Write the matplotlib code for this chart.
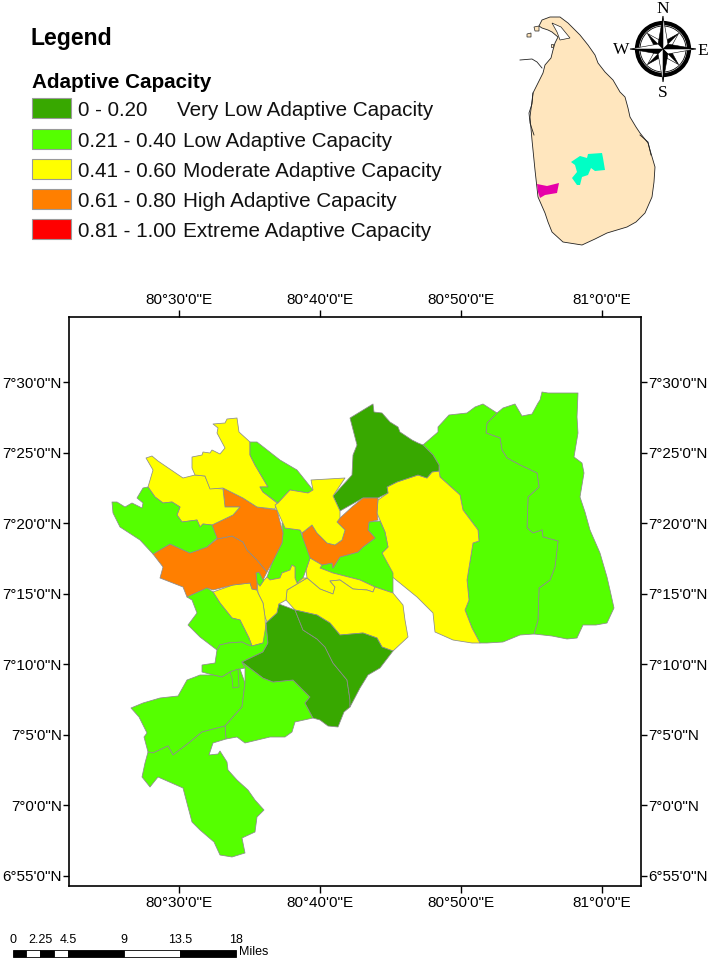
import numpy as np
import matplotlib
matplotlib.use("Agg")
import matplotlib.pyplot as plt
from matplotlib.patches import Polygon, Rectangle, Circle

plt.rcParams['font.family'] = ['Liberation Sans', 'DejaVu Sans']

W, H = 709, 959

# ---------- legend classes ----------
CLASS_COLORS = ['#38A800', '#55FF00', '#FFFF00', '#FF7F00', '#FF0000']
CLASS_RANGES = ['0 - 0.20', '0.21 - 0.40', '0.41 - 0.60', '0.61 - 0.80', '0.81 - 1.00']
CLASS_NAMES = ['Very Low Adaptive Capacity', 'Low Adaptive Capacity', 'Moderate Adaptive Capacity',
               'High Adaptive Capacity', 'Extreme Adaptive Capacity']

# ---------- axis ticks ----------
LON_TICKS = [80.5, 80 + 40/60, 80 + 50/60, 81.0]
LON_LABELS = ['80°30\'0"E', '80°40\'0"E', '80°50\'0"E', '81°0\'0"E']
LAT_TICKS = [7.5, 7 + 25/60, 7 + 20/60, 7 + 15/60, 7 + 10/60, 7 + 5/60, 7.0, 6 + 55/60]
LAT_LABELS = ['7°30\'0"N', '7°25\'0"N', '7°20\'0"N', '7°15\'0"N', '7°10\'0"N', '7°5\'0"N', '7°0\'0"N', '6°55\'0"N']

east_right = [(497,413),(487,423),(486,433),(500,438),(502,450),(507,458),(520,465),(537,473),(539,487),(528,497),
              (527,528),(533,533),(542,530),(543,537),(558,541),(555,567),(550,580),(539,588),(538,620),(534,634),
              (552,636),(567,639),(577,638),(583,625),(596,625),(607,623),(614,608),(610,590),(607,577),(600,553),
              (590,530),(585,512),(580,497),(584,473),(582,463),(574,457),(578,433),(577,417),(578,393),(560,393),
              (548,393),(542,392),(540,400),(538,403),(532,414),(522,416),(515,404),(503,408)]
east_mid = [(423,445),(438,432),(438,427),(449,415),(467,413),(475,407),(483,404),(497,413),(487,423),(486,433),(500,438),
            (502,450),(507,458),(520,465),(537,473),(539,487),(528,497),(527,528),(533,533),(542,530),(543,537),
            (558,541),(555,567),(550,580),(539,588),(538,620),(534,634),(520,635),(503,642),(487,643),(480,643),
            (472,628),(465,610),(469,600),(467,580),(473,543),(479,541),(478,530),(463,510),(460,495),(440,477),
            (439,465),(433,455)]
east_yellow = [(439,471),(440,477),(460,495),(463,510),(478,530),(479,541),(473,543),(467,580),(469,600),(465,610),
               (472,628),(480,643),(472,643),(453,640),(435,632),(433,613),(417,597),(390,575),(382,553),(388,547),
               (385,532),(377,513),(378,500),(388,493),(387,487),(397,482),(418,475),(427,478),(432,472)]
north_dark = [(373,404),(374,412),(382,413),(390,422),(398,427),(400,432),(412,440),(418,443),(423,445),(433,455),
              (439,465),(439,471),(432,472),(427,478),(418,475),(397,482),(387,487),(388,493),(378,498),(363,498),
              (340,511),(333,496),(352,475),(353,455),(357,445),(350,418)]
orange_east = [(378,498),(363,498),(352,507),(340,518),(337,522),(345,530),(342,540),(335,545),(327,543),(317,533),
               (312,525),(302,533),(303,540),(310,558),(322,565),(332,563),(333,568),(340,557),(358,552),(363,547),
               (375,538),(368,530),(369,522),(378,520),(377,513)]
green_east = [(369,522),(368,530),(375,538),(363,547),(358,552),(340,557),(333,568),(332,563),(322,565),(320,568),
              (333,573),(360,580),(375,587),(393,593),(393,573),(382,553),(388,547),(385,532),(380,521)]
yellow_sliver = [(306,570),(310,558),(322,565),(320,568),(333,573),(360,580),(375,587),(373,592),(367,590),(353,589),
                 (340,580),(330,581),(335,587),(333,594),(320,589),(307,578)]
yellow_south = [(307,578),(320,589),(333,594),(335,587),(330,581),(340,580),(353,589),(367,590),(373,592),(375,587),
                (393,593),(403,605),(405,620),(408,637),(393,651),(382,647),(377,638),(363,633),(340,635),(330,623),
                (317,615),(295,610),(286,600),(287,590)]
green_centre = [(285,528),(300,530),(310,558),(306,570),(303,578),(297,583),(295,578),(295,567),(292,565),(290,570),
                (282,573),(280,578),(270,580),(267,577),(272,563),(282,543),(283,533),(282,523),(286,527)]
green_speck = [(256,573),(259,572),(264,580),(260,586),(257,583)]
yellow_centre = [(267,577),(270,580),(280,578),(282,573),(290,570),(292,565),(295,567),(295,578),(297,583),(303,578),
                 (307,578),(287,590),(286,600),(279,604),(277,613),(267,622),(265,617),(263,603),(258,593),(257,582),
                 (260,586),(264,580)]
yellow_sw = [(213,592),(233,585),(250,583),(252,589),(257,590),(258,593),(263,603),(265,617),(266,637),(263,643),
             (252,646),(249,638),(240,620),(232,618),(228,613),(220,603)]
orange_w1 = [(153,554),(170,544),(190,553),(207,547),(217,539),(232,536),(243,542),(247,550),(257,560),(267,572),
             (263,580),(259,572),(256,573),(257,582),(257,590),(252,589),(250,583),(233,585),(213,590),(207,588),
             (187,597),(183,587),(160,578),(163,567)]
orange_w2 = [(217,539),(212,525),(233,515),(240,507),(225,507),(223,488),(243,498),(257,507),(277,510),(283,533),
             (282,543),(272,563),(267,572),(257,560),(247,550),(243,542),(232,536)]
yellow_west = [(146,458),(152,456),(158,461),(183,478),(195,475),(205,476),(210,488),(223,489),(225,507),(240,507),
               (233,515),(212,525),(203,524),(200,527),(197,520),(182,522),(177,515),(180,507),(172,502),(163,503),
               (155,497),(148,487),(153,470)]
green_west = [(112,502),(117,502),(125,507),(132,503),(142,508),(143,503),(137,498),(143,488),(148,487),(155,497),
              (163,503),(172,502),(180,507),(177,515),(182,522),(197,520),(200,527),(203,524),(212,525),(217,538),
              (207,547),(190,553),(170,544),(153,554),(140,540),(120,527),(113,513)]
yellow_north = [(213,424),(225,423),(227,419),(237,418),(239,432),(250,442),(250,455),(255,465),(268,487),(260,487),
                (263,492),(277,503),(275,509),(257,507),(243,498),(223,488),(210,489),(205,476),(195,475),(192,468),
                (192,457),(202,455),(203,452),(210,453),(212,450),(220,454),(225,448),(217,433),(218,428)]
green_north = [(250,442),(257,442),(280,460),(297,470),(313,490),(308,493),(290,490),(278,503),(263,492),(260,487),
               (268,487),(255,465),(250,455)]
yellow_mid = [(313,490),(311,480),(345,478),(333,496),(340,511),(340,518),(337,522),(345,530),(342,540),(335,545),
              (327,543),(317,533),(312,525),(302,533),(300,530),(285,528),(277,510),(275,505),(278,503),(290,490),(308,493)]
dark_s_left = [(279,604),(295,610),(303,630),(317,639),(325,647),(333,663),(347,680),(350,700),(350,707),(344,712),
               (338,727),(328,726),(320,720),(313,718),(305,703),(310,697),(293,680),(273,682),(263,678),(242,662),
               (263,652),(268,643),(266,623),(277,613)]
dark_s_right = [(295,610),(317,615),(330,623),(340,635),(363,633),(377,638),(382,647),(393,651),(380,668),(368,675),
                (360,688),(350,707),(350,700),(347,680),(333,663),(325,647),(317,639),(303,630)]
green_lower_a = [(192,600),(187,597),(207,588),(213,592),(220,603),(228,613),(232,618),(240,620),(249,638),(252,646),
                 (248,645),(242,642),(228,643),(220,645),(217,650),(200,637),(188,625),(197,613)]
green_lower_b = [(220,645),(228,643),(242,642),(248,645),(252,646),(263,643),(266,625),(268,643),(263,652),(242,662),
                 (245,668),(240,669),(230,672),(222,677),(213,675),(202,672),(202,665),(215,663),(217,650)]
green_lower_c = [(131,708),(143,703),(160,698),(178,696),(187,680),(195,677),(200,675),(213,675),(222,677),(230,672),
                 (240,669),(245,683),(242,707),(233,717),(225,726),(202,732),(190,742),(173,755),(168,746),(153,753),
                 (148,752),(144,737),(147,733),(139,717)]
green_lower_inner = [(230,672),(238,669),(239,687),(233,688),(232,678)]
green_lower_d = [(245,668),(242,662),(263,678),(273,682),(293,680),(310,697),(305,703),(313,718),(295,722),(292,732),
                 (285,737),(270,737),(245,743),(237,737),(226,739),(225,726),(233,717),(242,707),(245,683)]
green_south = [(148,752),(153,753),(168,746),(173,755),(190,742),(202,732),(225,726),(226,739),(213,743),(209,755),
               (218,754),(220,751),(227,762),(228,770),(237,780),(248,790),(255,800),(264,810),(257,817),(255,832),
               (242,838),(245,853),(232,857),(220,855),(214,842),(200,830),(192,822),(188,807),(183,788),(158,777),
               (150,787),(142,777),(145,763)]

# (outline, adaptive class index)
DISTRICTS = [(east_right,1),(east_mid,1),(east_yellow,2),(north_dark,0),(green_east,1),(orange_east,3),
             (yellow_sliver,2),(yellow_south,2),(green_centre,1),(yellow_centre,2),(green_speck,1),(yellow_sw,2),
             (orange_w1,3),(orange_w2,3),(yellow_west,2),(green_west,1),(yellow_north,2),(green_north,1),
             (yellow_mid,2),(green_lower_a,1),(green_lower_b,1),(green_lower_c,1),(green_lower_inner,1),
             (green_lower_d,1),(green_south,1),(dark_s_left,0),(dark_s_right,0)]

# ---------- inset outline (sheet units) ----------
island = [(539,26),(542,20),(550,17),(560,17),(568,23),(575,30),(580,35),(588,45),(595,55),(598,63),(605,72),(613,80),
          (620,92),(625,97),(628,108),(630,117),(636,127),(640,133),(648,143),(650,150),(655,167),(654,182),(652,197),
          (645,213),(636,222),(627,227),(607,233),(595,239),(582,245),(563,242),(552,232),(548,222),(545,213),(538,197),
          (535,170),(533,150),(532,140),(530,117),(533,93),(538,83),(543,73),(545,65),(551,58),(553,50),(555,43),
          (558,37),(552,32),(548,30),(542,28)]
inset_cyan = [(571,162),(580,156),(587,158),(588,154),(602,153),(603,158),(605,170),(595,171),(591,168),(588,175),
              (582,177),(580,185),(577,185),(572,178),(577,172),(575,165)]
inset_magenta = [(537,184),(547,186),(559,183),(557,193),(545,195),(540,198),(538,192)]
mannar = [(520,60),(532,59),(537,62),(542,68)]
lagoon_north = [(552,23),(561,27),(570,38),(560,40),(557,32)]
kalpitiya = [(533,93),(532,104),(529,113),(530,123),(534,135)]
islet_a = [(527,34),(531,33),(531,37),(527,37)]
islet_b = [(534,27),(539,26),(539,31),(535,31)]
islet_c = [(551,44),(553,44),(553,47),(551,47)]
east_lagoon = [(640,135),(648,142),(651,155)]

# ---------- scale bar ----------
SCALE_MILES = [0, 1.125, 2.25, 3.375, 4.5, 9, 13.5, 18]
SCALE_LABELS = [0, 2.25, 4.5, 9, 13.5, 18]

# ---------- georeferencing ----------
X_REF, LON_REF, X_PER_DEG = 179.3, 80.5, 844.8
Y_REF, LAT_REF, Y_PER_DEG = 382.3, 7.5, 845.8
def to_lonlat(pts):
    a = np.asarray(pts, float)
    return np.column_stack((LON_REF + (a[:,0]-X_REF)/X_PER_DEG, LAT_REF - (a[:,1]-Y_REF)/Y_PER_DEG))

fig = plt.figure(figsize=(W/100, H/100), dpi=100, facecolor='white')

# map frame
L, R, T, B = 69, 641, 317, 886
ax = fig.add_axes([L/W, 1-B/H, (R-L)/W, (B-T)/H])
ax.set_xlim(to_lonlat([(L,0)])[0,0], to_lonlat([(R,0)])[0,0])
ax.set_ylim(to_lonlat([(0,B)])[0,1], to_lonlat([(0,T)])[0,1])
for outline, cls in DISTRICTS:
    ax.add_patch(Polygon(to_lonlat(outline), closed=True, facecolor=CLASS_COLORS[cls],
                         edgecolor='#8C8C8C', linewidth=0.55, joinstyle='round'))
ax.set_xticks(LON_TICKS); ax.set_xticklabels(LON_LABELS)
ax.set_yticks(LAT_TICKS); ax.set_yticklabels(LAT_LABELS)
ax.tick_params(axis='both', which='major', direction='out', length=5, width=1.0, labelsize=11.0, pad=2,
               top=True, right=True, labeltop=True, labelright=True, bottom=True, left=True)
ax.tick_params(axis='y', length=4.5, pad=0.8)
for s in ax.spines.values():
    s.set_linewidth(1.2)

# overlay on sheet units
ov = fig.add_axes([0, 0, 1, 1], facecolor='none')
ov.set_xlim(0, W); ov.set_ylim(H, 0); ov.axis('off')

# legend
ov.text(30, 38.5, 'Legend', fontsize=16.6, fontweight='bold', va='center', ha='left')
ov.text(32, 82, 'Adaptive Capacity', fontsize=14.9, fontweight='bold', va='center', ha='left')
row_y = [108, 139, 169, 199, 229]
for i, y in enumerate(row_y):
    ov.add_patch(Rectangle((32, y-10), 39, 20, facecolor=CLASS_COLORS[i], edgecolor='#9A9A9A', linewidth=0.8))
    ov.text(78, y+2.5, CLASS_RANGES[i], fontsize=14.9, va='center', ha='left', color='#111111')
    ov.text(177 if i == 0 else 183, y+2.5, CLASS_NAMES[i], fontsize=14.9, va='center', ha='left', color='#111111')

# inset
ov.add_patch(Polygon(island, closed=True, facecolor='#FFE6BE', edgecolor='#222222', linewidth=0.6))
ov.add_patch(Polygon(inset_cyan, closed=True, facecolor='#00FFC5', edgecolor='none'))
ov.add_patch(Polygon(inset_magenta, closed=True, facecolor='#E600A9', edgecolor='none'))
for line in (mannar, kalpitiya, east_lagoon):
    m = np.array(line); ov.plot(m[:,0], m[:,1], color='#222222', lw=0.6)
ov.add_patch(Polygon(lagoon_north, closed=True, facecolor='white', edgecolor='#222222', linewidth=0.5))
for islet in (islet_a, islet_b, islet_c):
    ov.add_patch(Polygon(islet, closed=True, facecolor='#FFE6BE', edgecolor='#222222', linewidth=0.5))

# compass
cx, cy = 663, 49
ov.add_patch(Circle((cx, cy), 26, facecolor='none', edgecolor='black', linewidth=3.0, zorder=4))
ov.add_patch(Circle((cx, cy), 23, facecolor='none', edgecolor='black', linewidth=0.6, zorder=4))
def star(theta, R_tip, r_base, width):
    for sgn, col in ((1, 'black'), (-1, 'white')):
        tip = (cx + R_tip*np.cos(theta), cy - R_tip*np.sin(theta))
        side = (cx + r_base*np.cos(theta + sgn*width), cy - r_base*np.sin(theta + sgn*width))
        ov.add_patch(Polygon([(cx, cy), tip, side], closed=True, facecolor=col, edgecolor='black', linewidth=0.4, zorder=5))
for k in range(4):
    star(np.pi/4 + k*np.pi/2, 22, 7, np.pi/4)
for k in range(4):
    star(k*np.pi/2, 33, 7, np.pi/4)
for s, x, y in (('N', 663, 9), ('S', 663, 93), ('W', 621, 50), ('E', 703, 51)):
    ov.text(x, y, s, family=['Liberation Serif'], fontsize=12.5, ha='center', va='center')

# scale bar
sx0, sx_per = 12.5, 12.39
for i in range(len(SCALE_MILES)-1):
    a, b = SCALE_MILES[i], SCALE_MILES[i+1]
    ov.add_patch(Rectangle((sx0+a*sx_per, 950), (b-a)*sx_per, 6.5, facecolor='black' if i % 2 == 0 else 'white',
                           edgecolor='black', linewidth=0.6))
for v in SCALE_LABELS:
    ov.text(sx0+v*sx_per, 940, f'{v:g}', fontsize=9, ha='center', va='center')
ov.text(239, 952, 'Miles', fontsize=9, ha='left', va='center')

fig.savefig('out.png', dpi=100)
